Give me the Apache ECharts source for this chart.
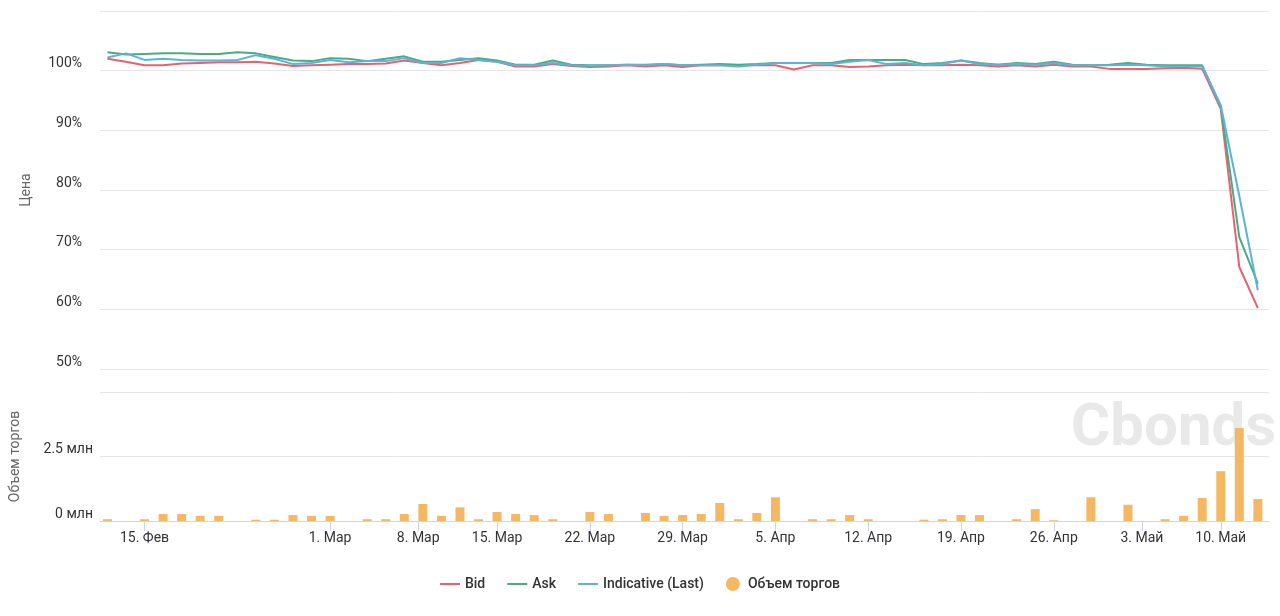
<!DOCTYPE html>
<html>
<head>
<meta charset="utf-8">
<script src="https://cdn.jsdelivr.net/npm/echarts@6/dist/echarts.min.js"></script>
<style>
html,body{margin:0;padding:0;background:#fff;}
#chart{width:1280px;height:616px;}
</style>
</head>
<body>
<div id="chart"></div>
<script>
// Trading days (ordinal x axis)
const dates = [
 '2021-02-11','2021-02-12','2021-02-15','2021-02-16','2021-02-17','2021-02-18','2021-02-19','2021-02-20','2021-02-22','2021-02-24','2021-02-25','2021-02-26',
 '2021-03-01','2021-03-02','2021-03-03','2021-03-04','2021-03-05','2021-03-09','2021-03-10','2021-03-11','2021-03-12',
 '2021-03-15','2021-03-16','2021-03-17','2021-03-18','2021-03-19','2021-03-22','2021-03-23','2021-03-24','2021-03-25','2021-03-26',
 '2021-03-29','2021-03-30','2021-03-31','2021-04-01','2021-04-02','2021-04-05','2021-04-06','2021-04-07','2021-04-08','2021-04-09',
 '2021-04-12','2021-04-13','2021-04-14','2021-04-15','2021-04-16','2021-04-19','2021-04-20','2021-04-21','2021-04-22','2021-04-23',
 '2021-04-26','2021-04-27','2021-04-28','2021-04-29','2021-04-30','2021-05-04','2021-05-05','2021-05-06','2021-05-07',
 '2021-05-10','2021-05-11','2021-05-12'
];
const bid = [
 102.0,101.5,100.9,100.9,101.2,101.3,101.4,101.4,101.5,101.2,100.8,100.9,
 101.0,101.1,101.1,101.2,101.7,101.3,100.9,101.3,101.8,
 101.5,100.7,100.7,101.1,100.8,100.6,100.7,100.9,100.7,100.9,
 100.6,100.9,100.9,100.9,100.9,100.9,100.2,100.9,100.9,100.6,
 100.7,100.9,101.0,100.9,100.9,101.0,100.9,100.7,100.9,100.7,
 101.0,100.7,100.7,100.3,100.3,100.3,100.4,100.5,100.3,
 93.6,67.1,60.2
];
const ask = [
 103.1,102.7,102.8,102.9,102.9,102.8,102.8,103.1,102.9,102.3,101.7,101.6,
 102.1,102.0,101.6,102.0,102.4,101.5,101.5,101.8,102.1,
 101.7,101.0,101.0,101.7,101.0,100.9,100.9,101.0,101.0,101.1,
 100.9,101.0,101.1,101.0,101.1,101.3,101.3,101.3,101.3,101.8,
 101.8,101.8,101.8,101.1,101.3,101.7,101.3,101.0,101.3,101.1,
 101.5,101.0,100.9,101.0,101.3,101.0,100.9,100.9,100.9,
 94.0,72.1,64.3
];
const indicative = [
 102.2,102.9,101.8,102.0,101.8,101.7,101.7,101.8,102.6,102.0,101.1,101.3,
 101.8,101.4,101.6,101.6,102.1,101.3,101.3,102.1,101.8,
 101.5,100.9,100.9,101.3,100.9,100.8,100.9,101.0,100.9,101.1,
 100.9,100.9,100.9,100.7,101.0,101.3,101.3,101.3,101.1,101.5,
 101.8,101.1,101.3,100.9,101.1,101.7,101.1,101.0,101.1,101.0,
 101.3,100.9,100.9,100.9,101.0,100.9,100.7,100.7,100.7,
 94.2,79.0,63.2
];
// Trading volume, million
const volume = [
 0.07,null,0.07,0.27,0.27,0.2,0.2,null,0.05,0.05,0.23,0.2,
 0.2,null,0.07,0.07,0.27,0.66,0.2,0.53,0.07,
 0.35,0.27,0.23,0.07,null,0.35,0.27,null,0.31,0.2,
 0.23,0.27,0.7,0.07,0.31,0.92,null,0.07,0.07,0.23,
 0.07,null,null,0.05,0.07,0.23,0.23,null,0.07,0.46,
 0.03,null,0.92,null,0.63,null,0.07,0.2,0.89,
 1.93,3.6,0.85
];
const tickDates = ['2021-02-15','2021-03-01','2021-03-08','2021-03-15','2021-03-22','2021-03-29','2021-04-05','2021-04-12','2021-04-19','2021-04-26','2021-05-03','2021-05-10'];
const monthNames = ['Янв','Фев','Мар','Апр','Май','Июн','Июл','Авг','Сен','Окт','Ноя','Дек'];
const seriesNames = ['Bid','Ask','Indicative (Last)','Объем торгов'];
const colors = ['#e4636f','#4aab83','#5bb4d8','#f5b862'];

// ordinal position of a calendar date among trading days
const dayMs = d => Date.parse(d + 'T00:00:00Z');
function ordinalPos(d){
  const t = dayMs(d);
  for (let i = 0; i < dates.length - 1; i++){
    const a = dayMs(dates[i]), b = dayMs(dates[i+1]);
    if (t >= a && t <= b) return i + (t - a) / (b - a);
  }
  return t < dayMs(dates[0]) ? 0 : dates.length - 1;
}
const tickPos = tickDates.map(ordinalPos);
const tickLabels = tickDates.map(d => { const p = d.split('-'); return (+p[2]) + '. ' + monthNames[+p[1]-1]; });
function tickLabel(v){
  for (let i = 0; i < tickPos.length; i++) if (Math.abs(tickPos[i]-v) < 1e-6) return tickLabels[i];
  return '';
}

const pair = arr => arr.map((v,i) => [i, v]);
const volPairs = volume.map((v,i) => [i, v]).filter(p => p[1] !== null);

const font = 'Roboto';
const lineIcon = 'path://M0,0H20V2H0Z';
const chart = echarts.init(document.getElementById('chart'), null, {renderer:'canvas'});
const xMin = -0.4, xMax = 62.6;
chart.setOption({
  animation: false,
  color: colors,
  textStyle: {fontFamily: font},
  grid: [
    {left: 100, right: 11, top: 11, height: 358},
    {left: 100, right: 11, top: 392, height: 129}
  ],
  tooltip: {trigger: 'axis'},
  legend: {
    top: 572, left: 'center', itemGap: 22, itemWidth: 20, itemHeight: 14,
    textStyle: {fontFamily: font, fontSize: 14, fontWeight: 500, color: '#333'},
    data: [
      {name: seriesNames[0], icon: lineIcon}, {name: seriesNames[1], icon: lineIcon}, {name: seriesNames[2], icon: lineIcon},
      {name: seriesNames[3], icon: 'circle'}
    ]
  },
  graphic: [{
    type: 'text', left: 1071, top: 400, z: -10, silent: true,
    style: {text: 'Cbonds', fill: '#e9e9e9', font: 'bold 60px Roboto'}
  }],
  xAxis: [
    {type: 'value', gridIndex: 0, min: xMin, max: xMax, show: false, splitLine: {show: false}},
    {type: 'value', gridIndex: 1, min: xMin, max: xMax,
      splitLine: {show: false},
      axisLine: {show: true, onZero: false, lineStyle: {color: '#ccd6eb', width: 1}},
      axisTick: {show: true, length: 10, customValues: tickPos, lineStyle: {color: '#ccd6eb'}},
      axisLabel: {customValues: tickPos, formatter: tickLabel, margin: 10, fontSize: 14, color: '#333', fontFamily: font}
    }
  ],
  yAxis: [
    {type: 'value', gridIndex: 0, min: 50, max: 110, interval: 10,
      name: 'Цена', nameLocation: 'middle', nameGap: 67,
      nameTextStyle: {fontSize: 14, color: '#666', fontFamily: font},
      axisLine: {show: false}, axisTick: {show: false},
      splitLine: {lineStyle: {color: '#e6e6e6'}},
      axisLabel: {formatter: v => v === 110 ? '' : v + '%', margin: 18, fontSize: 14, color: '#333', verticalAlign: 'bottom', fontFamily: font}
    },
    {type: 'value', gridIndex: 1, min: 0, max: 5, interval: 2.5,
      name: 'Объем торгов', nameLocation: 'middle', nameGap: 78,
      nameTextStyle: {fontSize: 14, color: '#666', fontFamily: font},
      axisLine: {show: false}, axisTick: {show: false},
      splitLine: {lineStyle: {color: '#e6e6e6'}},
      axisLabel: {formatter: v => v === 5 ? '' : v + ' млн', margin: 7, fontSize: 14, color: '#333', verticalAlign: 'bottom', fontFamily: font}
    }
  ],
  series: [
    {name: seriesNames[3], type: 'bar', xAxisIndex: 1, yAxisIndex: 1, data: volPairs, barWidth: 9, itemStyle: {color: colors[3]}},
    {name: seriesNames[0], type: 'line', xAxisIndex: 0, yAxisIndex: 0, data: pair(bid), symbol: 'none', lineStyle: {width: 2, color: colors[0]}},
    {name: seriesNames[1], type: 'line', xAxisIndex: 0, yAxisIndex: 0, data: pair(ask), symbol: 'none', lineStyle: {width: 2, color: colors[1]}},
    {name: seriesNames[2], type: 'line', xAxisIndex: 0, yAxisIndex: 0, data: pair(indicative), symbol: 'none', lineStyle: {width: 2, color: colors[2]}}
  ]
});
</script>
</body>
</html>
